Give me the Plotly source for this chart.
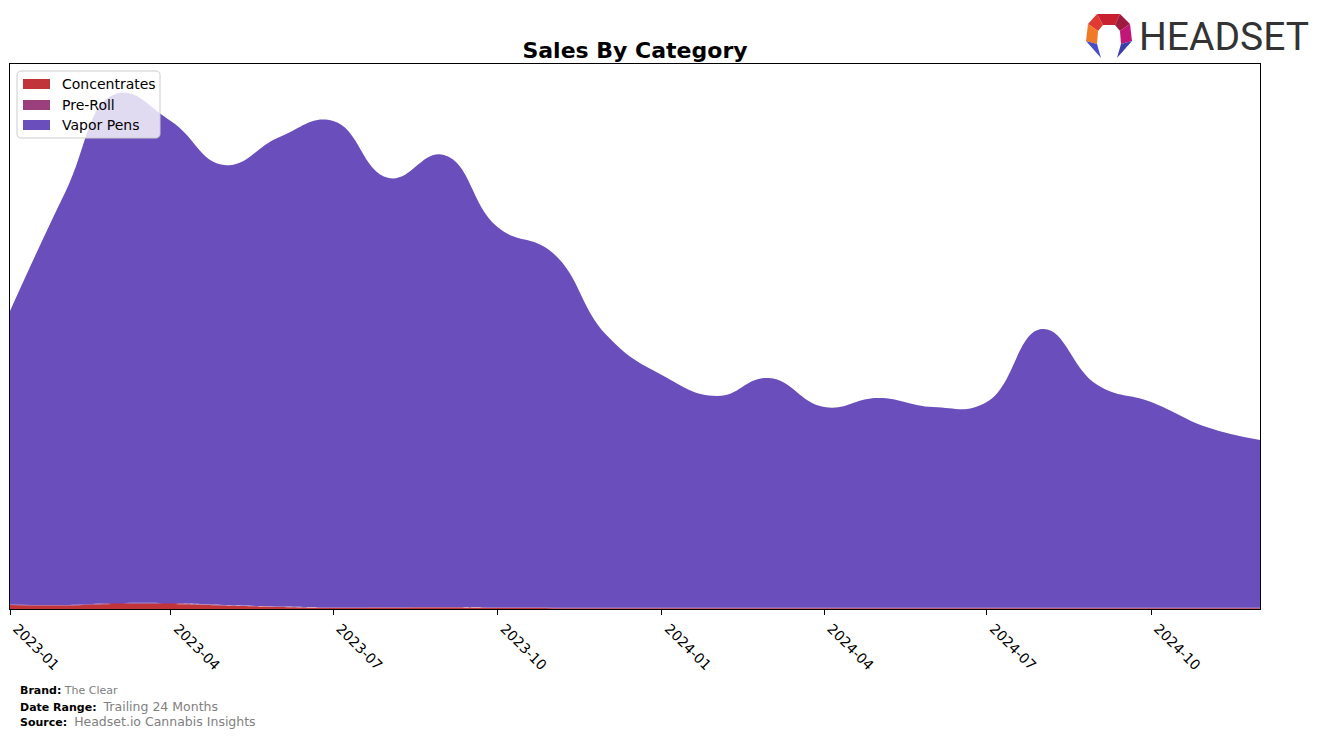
import plotly.graph_objects as go

# ---- data (arbitrary sales units) ----
months = ["2023-01-01", "2023-02-01", "2023-03-01", "2023-04-01", "2023-05-01", "2023-06-01",
          "2023-07-01", "2023-08-01", "2023-09-01", "2023-10-01", "2023-11-01", "2023-12-01",
          "2024-01-01", "2024-02-01", "2024-03-01", "2024-04-01", "2024-05-01", "2024-06-01",
          "2024-07-01", "2024-08-01", "2024-09-01", "2024-10-01", "2024-11-01", "2024-12-01"]
concentrates = [4.0, 3.5, 5.0, 5.0, 3.5, 2.0, 1.0, 1.2, 1.5, 1.0, 0.8, 0.8,
                0.8, 0.8, 0.8, 0.8, 0.8, 0.8, 0.8, 0.8, 0.8, 0.8, 0.8, 0.8]
pre_roll = [0.5, 0.5, 1.0, 1.0, 0.5, 0.5, 0.5, 0.5, 0.5, 0.5, 0.5, 0.5,
            0.5, 0.5, 0.5, 0.5, 0.5, 0.5, 0.5, 0.5, 0.5, 0.5, 0.5, 0.5]
vapor_pens = [293.5, 413.0, 509.0, 482.0, 440.0, 469.5, 486.5, 429.3, 452.0, 380.5, 354.7, 272.7,
              232.7, 211.7, 229.7, 200.7, 209.7, 200.7, 205.7, 278.7, 222.7, 205.7, 180.7, 167.7]
series_names = ["Concentrates", "Pre-Roll", "Vapor Pens"]
series_colors = ["#C0343A", "#9A3F7B", "#6A4EBC"]
tick_vals = ["2023-01-01", "2023-04-01", "2023-07-01", "2023-10-01",
             "2024-01-01", "2024-04-01", "2024-07-01", "2024-10-01"]
y_max = 545.0

W, H = 1324, 738
L, R, T, B = 10, 1260, 64, 609

fig = go.Figure()
for name, vals, col in zip(series_names, [concentrates, pre_roll, vapor_pens], series_colors):
    fig.add_trace(go.Scatter(
        x=months, y=vals, name=name, mode="lines", stackgroup="one",
        line=dict(width=0, shape="spline", smoothing=1.3, color=col),
        fillcolor=col, hoverinfo="x+y+name", showlegend=False))

fig.update_layout(
    width=W, height=H, autosize=False,
    margin=dict(l=L, r=W - R, t=T, b=H - B, pad=0, autoexpand=False),
    paper_bgcolor="white", plot_bgcolor="white",
    font=dict(family="DejaVu Sans", size=13, color="black"),
    title=dict(text="<b>Sales By Category</b>", x=(L + R) / 2 / W, xanchor="center",
               y=1 - 50 / H, yanchor="middle", font=dict(size=22, family="DejaVu Sans")),
    showlegend=False,
    xaxis=dict(type="date", range=[months[0], months[-1]], tickvals=tick_vals,
               tickformat="%Y-%m", tickangle=45, ticks="outside", ticklen=5,
               tickcolor="black", showline=True, linecolor="black", linewidth=1,
               mirror=True, showgrid=False, zeroline=False, automargin=False,
               ticklabelshift=7,
               tickfont=dict(size=14, family="DejaVu Sans", color="black")),
    yaxis=dict(range=[0, y_max], showticklabels=False, ticks="", showline=True,
               linecolor="black", linewidth=1, mirror=True, showgrid=False, zeroline=False,
               automargin=False),
)

def px2paper(px, py):
    return (px - L) / (R - L), (B - py) / (B - T)

def pth(points):
    s = ""
    for i, (px, py) in enumerate(points):
        xp, yp = px2paper(px, py)
        s += ("M" if i == 0 else "L") + f"{xp:.5f},{yp:.5f} "
    return s + "Z"

def rounded(x0, y0, x1, y1, r):
    import math
    pts = []
    corners = [(x1 - r, y0 + r, -90), (x1 - r, y1 - r, 0), (x0 + r, y1 - r, 90), (x0 + r, y0 + r, 180)]
    for cx, cy, a0 in corners:
        for k in range(5):
            a = math.radians(a0 + k * 22.5)
            pts.append((cx + r * math.cos(a), cy + r * math.sin(a)))
    return pth(pts)

# ---- legend (drawn manually to match patch style) ----
fig.add_shape(type="path", path=rounded(17, 71, 160, 138, 4), xref="paper", yref="paper",
              fillcolor="rgba(255,255,255,0.8)", line=dict(color="#CCCCCC", width=1), layer="above")
leg_y = [84, 105, 125]
for name, col, yy in zip(series_names, series_colors, leg_y):
    fig.add_shape(type="path", path=pth([(23, yy - 5), (50, yy - 5), (50, yy + 5), (23, yy + 5)]),
                  xref="paper", yref="paper", fillcolor=col, line=dict(width=0), layer="above")
    xp, yp = px2paper(60, yy)
    fig.add_annotation(x=xp, y=yp, xref="paper", yref="paper", text=name, showarrow=False,
                       xanchor="left", yanchor="middle",
                       font=dict(size=14, family="DejaVu Sans", color="black"))

# ---- footer notes ----
notes = [
    (18, 690, "<b>Brand:</b> <span style='color:#808080'>The Clear</span>"),
    (18, 706, "<b>Date Range:</b>  <span style='color:#808080;font-size:12.5px'>Trailing 24 Months</span>"),
    (18, 721, "<b>Source:</b>  <span style='color:#808080;font-size:12.5px'>Headset.io Cannabis Insights</span>"),
]
for px, py, txt in notes:
    xp, yp = px2paper(px, py)
    fig.add_annotation(x=xp, y=yp, xref="paper", yref="paper", text=txt, showarrow=False,
                       xanchor="left", yanchor="middle", align="left",
                       font=dict(size=11, family="DejaVu Sans", color="black"))

# ---- logo ----
P_l_up, P_top_l, P_top_r, P_r_up = (1088, 24), (1097, 14), (1120, 14), (1130, 24)
P_l_low, P_r_low = (1086, 41), (1132, 41)
P_lfoot, P_rfoot = (1101, 58), (1117, 58)
I_l_up, I_top_l, I_top_r, I_r_up = (1098, 31), (1103, 25), (1115, 25), (1120, 31)
I_l_low, I_r_low = (1097, 44), (1121, 44)
logo_parts = [
    ([P_top_l, P_top_r, I_top_r, I_top_l], "#C8202F"),
    ([P_l_up, P_top_l, I_top_l, I_l_up], "#E03A35"),
    ([P_top_r, P_r_up, I_r_up, I_top_r], "#9E1B3E"),
    ([P_l_up, I_l_up, I_l_low, P_l_low], "#F07A28"),
    ([P_r_up, P_r_low, I_r_low, I_r_up], "#C01678"),
    ([P_l_low, I_l_low, P_lfoot], "#4B4BC4"),
    ([P_r_low, P_rfoot, I_r_low], "#3D3DAE"),
]
for pts, col in logo_parts:
    fig.add_shape(type="path", path=pth(pts), xref="paper", yref="paper",
                  fillcolor=col, line=dict(width=0), layer="above")

xp, yp = px2paper(1137, 37)
fig.add_annotation(x=xp, y=yp, xref="paper", yref="paper", text="HEADSET", showarrow=False,
                   xanchor="left", yanchor="middle",
                   font=dict(size=39, family="Roboto, sans-serif", color="#333333"))

fig.write_html("out.html")
